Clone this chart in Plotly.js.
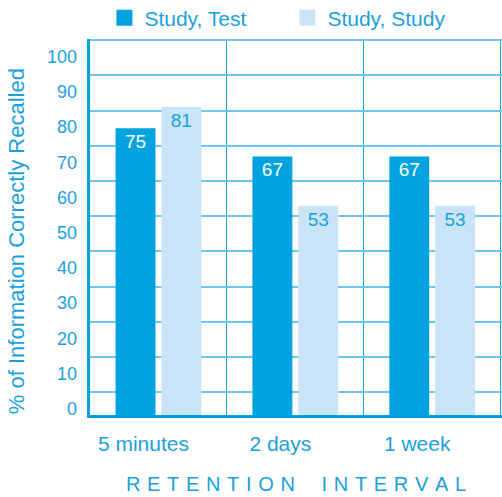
<!DOCTYPE html>
<html>
<head>
<meta charset="utf-8">
<script src="https://cdn.plot.ly/plotly-3.0.1.min.js"></script>
<style>html,body{margin:0;padding:0;background:#fff;}#chart{width:502px;height:497px;}</style>
</head>
<body>
<div id="chart"></div>
<script>
// Data
const categories = ["5 minutes", "2 days", "1 week"];
const studyTest = [75, 67, 67];
const studyStudy = [81, 53, 53];
const seriesNames = ["Study, Test", "Study, Study"];
const yTicks = [0, 10, 20, 30, 40, 50, 60, 70, 80, 90, 100];
const yTitle = "% of Information Correctly Recalled";
const xTitle = "RETENTION INTERVAL";

const DARK = "#00A3E0";
const LIGHT = "#C9E4F6";
const TXT = "#1BA0DE";
const FONT = "Liberation Sans, Arial, sans-serif";
const yMin = -6.5, yMax = 100.5;

function spaced(s) {
  return s.split(" ").map(w => w.split("").join("\u2004")).join("\u2003\u2004");
}

const traces = [
  {
    type: "bar", x: categories, y: studyTest.map(v => v - yMin), base: yMin,
    text: studyTest.map(String), textposition: "inside", insidetextanchor: "end",
    textangle: 0, constraintext: "none",
    insidetextfont: {family: FONT, size: 19, color: "#ffffff"},
    marker: {color: DARK}, showlegend: false, hoverinfo: "skip"
  },
  {
    type: "bar", x: categories, y: studyStudy.map(v => v - yMin), base: yMin,
    text: studyStudy.map(String), textposition: "inside", insidetextanchor: "end",
    textangle: 0, constraintext: "none",
    insidetextfont: {family: FONT, size: 19, color: TXT},
    marker: {color: LIGHT}, showlegend: false, hoverinfo: "skip"
  },
  {type: "scatter", mode: "markers", x: [null], y: [null], name: seriesNames[0],
   marker: {symbol: "square", size: 17, color: DARK}, showlegend: true, hoverinfo: "skip"},
  {type: "scatter", mode: "markers", x: [null], y: [null], name: seriesNames[1],
   marker: {symbol: "square", size: 17, color: LIGHT}, showlegend: true, hoverinfo: "skip"}
];

const layout = {
  width: 502, height: 497,
  margin: {l: 90, r: 0, t: 36, b: 82},
  paper_bgcolor: "#fff", plot_bgcolor: "#fff",
  font: {family: FONT, color: TXT},
  barmode: "group", bargap: 0.33, bargroupgap: 0.13,
  showlegend: true,
  legend: {
    orientation: "h", x: 0.035, xanchor: "left", yref: "container", y: 1 - 18/497, yanchor: "middle",
    font: {family: FONT, size: 21, color: TXT}, entrywidth: 138, entrywidthmode: "pixels",
    bgcolor: "rgba(0,0,0,0)", itemclick: false
  },
  xaxis: {
    type: "category", range: [-0.5, 2.51], tickson: "boundaries",
    showgrid: true, gridcolor: "#1FA2DC", gridwidth: 1,
    showline: true, linecolor: DARK, linewidth: 3,
    ticks: "", ticklabelshift: -15, ticklabelstandoff: 8,
    tickfont: {family: FONT, size: 21, color: TXT},
    title: {text: spaced(xTitle), font: {family: FONT, size: 20, color: TXT}, standoff: 23},
    fixedrange: true
  },
  yaxis: {
    range: [yMin, yMax], tickvals: yTicks, showticklabels: false,
    showgrid: true, gridcolor: "#6CC7EE", gridwidth: 2, zeroline: false,
    showline: true, linecolor: DARK, linewidth: 3, ticks: "", fixedrange: true
  },
  yaxis2: {
    overlaying: "y", side: "left", range: [yMin, yMax],
    tickvals: yTicks.map(t => t - 4.7), ticktext: yTicks.map(String),
    showgrid: false, zeroline: false, showline: false, ticks: "",
    ticklabelstandoff: 12,
    tickfont: {family: FONT, size: 18, color: TXT}, fixedrange: true
  },
  annotations: [{
    text: yTitle, textangle: -90, xref: "paper", yref: "paper",
    x: -(90 - 16) / 412, y: (415 - 240) / 379, xanchor: "center", yanchor: "middle",
    showarrow: false, font: {family: FONT, size: 22, color: TXT}
  }]
};

// dummy trace on yaxis2 so that the axis is drawn
traces.push({type: "scatter", x: [categories[0]], y: [null], yaxis: "y2", showlegend: false, hoverinfo: "skip"});

Plotly.newPlot("chart", traces, layout, {displayModeBar: false, staticPlot: true});
</script>
</body>
</html>
